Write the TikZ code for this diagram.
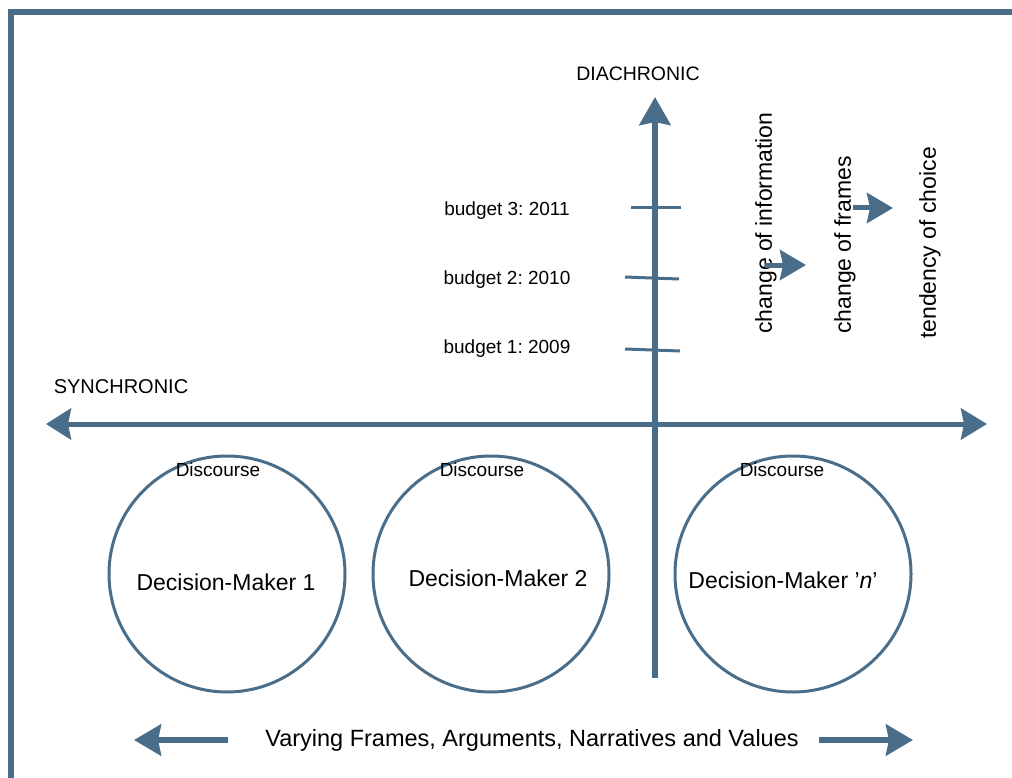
\documentclass[tikz,border=0pt]{standalone}
\usepackage{fontspec}
\setmainfont{Liberation Sans}
\usetikzlibrary{positioning, arrows.meta}
\definecolor{axisblue}{RGB}{74,110,138}
\frenchspacing

\begin{document}
\begin{tikzpicture}[
    x=1pt, y=-1pt,
    axis/.style={draw=axisblue, line width=6pt},
    shift arrow/.style={draw=axisblue, line width=5pt, -{Stealth[length=26pt, width=30pt, inset=3pt]}},
    tickline/.style={draw=axisblue, line width=3pt},
    dm/.style={draw=axisblue, line width=3pt, circle, minimum size=236pt, inner sep=0pt},
    label/.style={font=\fontsize{19}{22}\selectfont, inner sep=0pt},
    big/.style={font=\fontsize{23}{27}\selectfont, inner sep=0pt}
  ]
    \useasboundingbox (0,0) rectangle (1012,778);
    % frame
    \draw[axisblue, line width=5.5pt] (11,778) -- (11,12) -- (1012,12);
    % axes
    \coordinate (dia-bot) at (655,678);
    \coordinate (dia-top) at (655,97);
    \coordinate (syn-left) at (46,424);
    \coordinate (syn-right) at (987,424);
    \draw[axis, -{Stealth[length=28pt, width=31pt, inset=3pt]}] (dia-bot) -- (dia-top);
    \draw[axis, line width=5pt, {Stealth[length=25pt, width=31pt, inset=3pt]}-{Stealth[length=26pt, width=31pt, inset=3pt]}] (syn-left) -- (syn-right);
    \node[label, font=\fontsize{19.5}{22}\selectfont] (diachronic) at (638,74) {DIACHRONIC};
    \node[label, font=\fontsize{20}{23}\selectfont] (synchronic) at (121,387) {SYNCHRONIC};
    % budget ticks
    \draw[tickline] (631,208) -- (681,208);
    \draw[tickline] (625,277) -- (679,279);
    \draw[tickline] (625,349) -- (680,351);
    \node[label] (b3) at (507,211) {budget 3: 2011};
    \node[label] (b2) at (507,280) {budget 2: 2010};
    \node[label] (b1) at (507,349) {budget 1: 2009};
    % process
    \node[big, rotate=90] (info) at (766,223) {change of information};
    \node[big, rotate=90] (frames) at (845,245) {change of frames};
    \node[big, rotate=90] (choice) at (930,243) {tendency of choice};
    \coordinate (a1-s) at (765,265);
    \coordinate (a1-e) at (806,265);
    \coordinate (a2-s) at (853,208);
    \coordinate (a2-e) at (893,208);
    \draw[shift arrow] (a1-s) -- (a1-e);
    \draw[shift arrow] (a2-s) -- (a2-e);
    % decision-makers
    \node[dm] (dm1) at (227,574) {};
    \node[dm] (dm2) at (491,574) {};
    \node[dm] (dm3) at (793,574) {};
    \node[label] (d1) at (218,470) {Discourse};
    \node[label] (d2) at (482,470) {Discourse};
    \node[label] (d3) at (782,470) {Discourse};
    \node[big] (m1) at (226,582) {Decision-Maker 1};
    \node[big] (m2) at (498,578) {Decision-Maker 2};
    \node[big] (m3) at (783,580) {Decision-Maker \char"0027\textit{n}\char"0027};
    % bottom
    \node[big, font=\fontsize{23.5}{27}\selectfont] (vary) at (532,740) {Varying Frames, Arguments, Narratives and Values};
    \coordinate (l-s) at (228,740);
    \coordinate (l-e) at (134,740);
    \coordinate (r-s) at (819,740);
    \coordinate (r-e) at (913,740);
    \draw[shift arrow, line width=6pt, -{Stealth[length=27pt, width=31pt, inset=3pt]}] (l-s) -- (l-e);
    \draw[shift arrow, line width=6pt, -{Stealth[length=27pt, width=31pt, inset=3pt]}] (r-s) -- (r-e);
  \end{tikzpicture}
\end{document}
